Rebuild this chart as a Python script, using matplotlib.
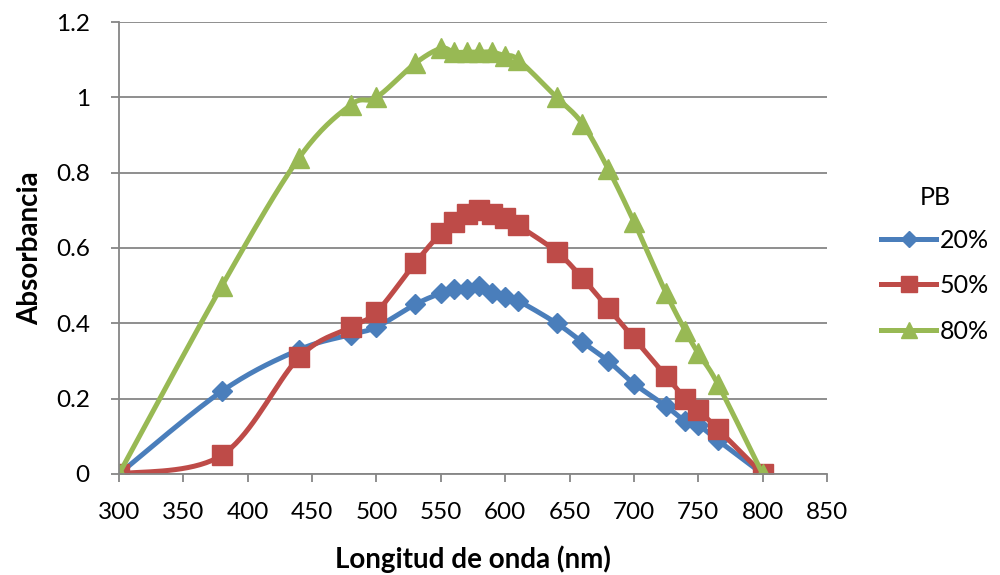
import numpy as np
import matplotlib.pyplot as plt

plt.rcParams['font.family'] = ['Lato', 'DejaVu Sans']

longitud = [300, 380, 440, 480, 500, 530, 550, 560, 570, 580, 590, 600, 610,
            640, 660, 680, 700, 725, 740, 750, 765, 800]
abs_20 = [0, 0.22, 0.33, 0.37, 0.39, 0.45, 0.48, 0.49, 0.49, 0.50, 0.48, 0.47, 0.46,
          0.40, 0.35, 0.30, 0.24, 0.18, 0.14, 0.13, 0.09, 0]
abs_50 = [0, 0.05, 0.31, 0.39, 0.43, 0.56, 0.64, 0.67, 0.69, 0.70, 0.69, 0.68, 0.66,
          0.59, 0.52, 0.44, 0.36, 0.26, 0.20, 0.17, 0.12, 0]
abs_80 = [0, 0.50, 0.84, 0.98, 1.00, 1.09, 1.13, 1.12, 1.12, 1.12, 1.12, 1.11, 1.10,
          1.00, 0.93, 0.81, 0.67, 0.48, 0.38, 0.32, 0.24, 0]
series = ['20%', '50%', '80%']


def suavizar(x, y, n=20):
    # bezier segments with catmull-rom control points (excel-like smoothed line)
    x = np.asarray(x, float)
    y = np.asarray(y, float)
    px = np.concatenate(([x[0]], x, [x[-1]]))
    py = np.concatenate(([y[0]], y, [y[-1]]))
    t = np.linspace(0, 1, n)[:, None]
    xs, ys = [], []
    for i in range(1, len(px) - 2):
        p0 = np.array([px[i], py[i]])
        p3 = np.array([px[i + 1], py[i + 1]])
        c1 = p0 + (np.array([px[i + 1], py[i + 1]]) - np.array([px[i - 1], py[i - 1]])) / 6
        c2 = p3 - (np.array([px[i + 2], py[i + 2]]) - p0) / 6
        b = ((1 - t) ** 3) * p0 + 3 * ((1 - t) ** 2) * t * c1 + 3 * (1 - t) * t ** 2 * c2 + t ** 3 * p3
        xs.append(b[:, 0])
        ys.append(b[:, 1])
    return np.concatenate(xs), np.concatenate(ys)


fig = plt.figure(figsize=(10, 5.75), dpi=100)
ax = fig.add_axes([0.119, 0.1757, 0.708, 0.786])

estilos = [('#4A7EBB', 'D', 10), ('#BE4B48', 's', 14), ('#98B954', '^', 14)]
for datos, nombre, (color, marca, tam) in zip([abs_20, abs_50, abs_80], series, estilos):
    sx, sy = suavizar(longitud, datos)
    ax.plot(sx, sy, color=color, lw=3.6, solid_capstyle='round', zorder=2)
    ax.plot(longitud, datos, ls='none', marker=marca, ms=tam, color=color, zorder=2)
    ax.plot([], [], color=color, lw=3.6, marker=marca, ms=tam * 0.8, label=nombre)

ax.set_xlim(300, 850)
ax.set_ylim(0, 1.2)
ax.set_xticks(np.arange(300, 851, 50))
ax.set_yticks([0, 0.2, 0.4, 0.6, 0.8, 1, 1.2])
ax.set_yticklabels(['0', '0.2', '0.4', '0.6', '0.8', '1', '1.2'])
ax.yaxis.grid(True, color='#868686', lw=1.3)
ax.set_axisbelow(True)
for s in ['top', 'right']:
    ax.spines[s].set_visible(False)
for s in ['left', 'bottom']:
    ax.spines[s].set_color('#868686')
    ax.spines[s].set_linewidth(1.3)
ax.tick_params(axis='both', colors='#868686', length=6, width=1.3, labelsize=17.5,
               labelcolor='black')
ax.tick_params(axis='x', pad=14)
ax.tick_params(axis='y', pad=15)

ax.set_xlabel('Longitud de onda (nm)', fontsize=20, fontweight='bold', labelpad=16)
ax.set_ylabel('Absorbancia', fontsize=20, fontweight='bold', labelpad=9)

leg = fig.legend(loc='center left', bbox_to_anchor=(0.881, 0.54), frameon=False,
                 title='PB', fontsize=18, title_fontsize=18, numpoints=1,
                 handlelength=2.2, handletextpad=0.15, labelspacing=0.9,
                 borderpad=0, borderaxespad=0)
leg._legend_box.sep = 14

fig.savefig('out.png', dpi=100)
